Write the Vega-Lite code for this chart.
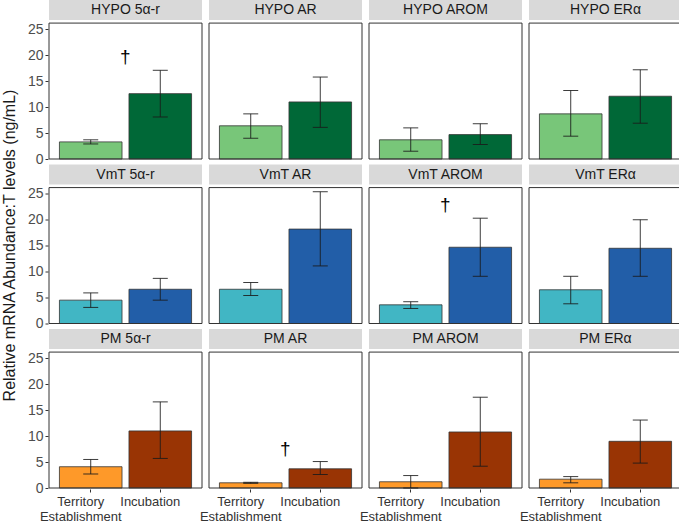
{
  "$schema": "https://vega.github.io/schema/vega-lite/v6.json",
  "padding": {"left": 2, "top": 0, "right": 0, "bottom": 0},
  "title": {"text": "Relative mRNA Abundance:T levels (ng/mL)", "orient": "left", "anchor": "middle", "fontSize": 16, "fontWeight": "normal", "color": "#1A1A1A", "offset": 9, "dx": 16},
  "data": {"values": [
    {"region": "HYPO", "gene": "5α-r", "panel": "HYPO 5α-r", "stage": "Territory Establishment", "grp": "HYPO T", "mean": 3.3, "lo": 2.9, "hi": 3.7, "sig": ""},
    {"region": "HYPO", "gene": "5α-r", "panel": "HYPO 5α-r", "stage": "Incubation", "grp": "HYPO I", "mean": 12.6, "lo": 8.1, "hi": 17.1, "sig": "†"},
    {"region": "HYPO", "gene": "AR", "panel": "HYPO AR", "stage": "Territory Establishment", "grp": "HYPO T", "mean": 6.4, "lo": 4.0, "hi": 8.7, "sig": ""},
    {"region": "HYPO", "gene": "AR", "panel": "HYPO AR", "stage": "Incubation", "grp": "HYPO I", "mean": 11.0, "lo": 6.1, "hi": 15.8, "sig": ""},
    {"region": "HYPO", "gene": "AROM", "panel": "HYPO AROM", "stage": "Territory Establishment", "grp": "HYPO T", "mean": 3.7, "lo": 1.5, "hi": 6.0, "sig": ""},
    {"region": "HYPO", "gene": "AROM", "panel": "HYPO AROM", "stage": "Incubation", "grp": "HYPO I", "mean": 4.7, "lo": 2.8, "hi": 6.8, "sig": ""},
    {"region": "HYPO", "gene": "ERα", "panel": "HYPO ERα", "stage": "Territory Establishment", "grp": "HYPO T", "mean": 8.7, "lo": 4.4, "hi": 13.2, "sig": ""},
    {"region": "HYPO", "gene": "ERα", "panel": "HYPO ERα", "stage": "Incubation", "grp": "HYPO I", "mean": 12.1, "lo": 6.9, "hi": 17.2, "sig": ""},
    {"region": "VmT", "gene": "5α-r", "panel": "VmT 5α-r", "stage": "Territory Establishment", "grp": "VmT T", "mean": 4.5, "lo": 3.1, "hi": 5.9, "sig": ""},
    {"region": "VmT", "gene": "5α-r", "panel": "VmT 5α-r", "stage": "Incubation", "grp": "VmT I", "mean": 6.6, "lo": 4.5, "hi": 8.7, "sig": ""},
    {"region": "VmT", "gene": "AR", "panel": "VmT AR", "stage": "Territory Establishment", "grp": "VmT T", "mean": 6.6, "lo": 5.4, "hi": 7.9, "sig": ""},
    {"region": "VmT", "gene": "AR", "panel": "VmT AR", "stage": "Incubation", "grp": "VmT I", "mean": 18.2, "lo": 11.1, "hi": 25.4, "sig": ""},
    {"region": "VmT", "gene": "AROM", "panel": "VmT AROM", "stage": "Territory Establishment", "grp": "VmT T", "mean": 3.6, "lo": 2.9, "hi": 4.2, "sig": ""},
    {"region": "VmT", "gene": "AROM", "panel": "VmT AROM", "stage": "Incubation", "grp": "VmT I", "mean": 14.7, "lo": 9.1, "hi": 20.3, "sig": "†"},
    {"region": "VmT", "gene": "ERα", "panel": "VmT ERα", "stage": "Territory Establishment", "grp": "VmT T", "mean": 6.5, "lo": 3.8, "hi": 9.1, "sig": ""},
    {"region": "VmT", "gene": "ERα", "panel": "VmT ERα", "stage": "Incubation", "grp": "VmT I", "mean": 14.5, "lo": 9.1, "hi": 20.0, "sig": ""},
    {"region": "PM", "gene": "5α-r", "panel": "PM 5α-r", "stage": "Territory Establishment", "grp": "PM T", "mean": 4.1, "lo": 2.7, "hi": 5.5, "sig": ""},
    {"region": "PM", "gene": "5α-r", "panel": "PM 5α-r", "stage": "Incubation", "grp": "PM I", "mean": 11.0, "lo": 5.7, "hi": 16.6, "sig": ""},
    {"region": "PM", "gene": "AR", "panel": "PM AR", "stage": "Territory Establishment", "grp": "PM T", "mean": 1.0, "lo": 0.9, "hi": 1.1, "sig": ""},
    {"region": "PM", "gene": "AR", "panel": "PM AR", "stage": "Incubation", "grp": "PM I", "mean": 3.7, "lo": 2.6, "hi": 5.1, "sig": "†"},
    {"region": "PM", "gene": "AROM", "panel": "PM AROM", "stage": "Territory Establishment", "grp": "PM T", "mean": 1.2, "lo": 0.0, "hi": 2.4, "sig": ""},
    {"region": "PM", "gene": "AROM", "panel": "PM AROM", "stage": "Incubation", "grp": "PM I", "mean": 10.8, "lo": 4.2, "hi": 17.5, "sig": ""},
    {"region": "PM", "gene": "ERα", "panel": "PM ERα", "stage": "Territory Establishment", "grp": "PM T", "mean": 1.7, "lo": 1.0, "hi": 2.2, "sig": ""},
    {"region": "PM", "gene": "ERα", "panel": "PM ERα", "stage": "Incubation", "grp": "PM I", "mean": 9.0, "lo": 4.8, "hi": 13.1, "sig": ""}
  ]},
  "facet": {
    "row": {"field": "region", "type": "nominal", "sort": ["HYPO", "VmT", "PM"], "header": {"labels": false, "title": null}},
    "column": {"field": "gene", "type": "nominal", "sort": ["5α-r", "AR", "AROM", "ERα"], "header": {"labels": false, "title": null}}
  },
  "spacing": {"row": 4.5, "column": 5},
  "spec": {
    "width": 153,
    "height": 159,
    "encoding": {
      "x": {"field": "stage", "type": "nominal", "sort": ["Territory Establishment", "Incubation"],
        "scale": {"paddingInner": 0.1, "paddingOuter": 0.15},
        "axis": {"title": null, "labelAngle": 0, "domain": false, "tickSize": 3, "tickColor": "#333333", "labelFontSize": 13, "labelColor": "#333333", "labelOffset": -10, "labelPadding": 3, "labelLineHeight": 15,
          "labelExpr": "datum.value == 'Territory Establishment' ? ['Territory', 'Establishment'] : datum.value"}
      }
    },
    "layer": [
      {
        "mark": {"type": "bar", "stroke": "#333333", "strokeWidth": 0.8},
        "encoding": {
          "y": {"field": "mean", "type": "quantitative", "scale": {"domain": [0, 30.65], "nice": false},
            "axis": {"values": [0, 5, 10, 15, 20, 25], "labelOverlap": false, "title": null, "domain": false, "grid": false, "tickSize": 3, "tickColor": "#333333", "labelFontSize": 14, "labelColor": "#4D4D4D", "labelPadding": 2}},
          "fill": {"field": "grp", "type": "nominal", "legend": null,
            "scale": {"domain": ["HYPO T", "HYPO I", "VmT T", "VmT I", "PM T", "PM I"], "range": ["#78C679", "#006837", "#41B6C4", "#225EA8", "#FE9929", "#993404"]}}
        }
      },
      {
        "mark": {"type": "rect", "fill": "#D9D9D9", "stroke": null},
        "transform": [{"filter": "datum.stage == 'Incubation'"}],
        "encoding": {"x": null, "y": {"datum": 26.8, "axis": {"values": [0, 5, 10, 15, 20, 25], "labelOverlap": false, "title": null}}, "y2": {"datum": 30.65}}
      },
      {
        "mark": {"type": "text", "fontSize": 14, "color": "#1A1A1A", "baseline": "middle", "align": "center"},
        "transform": [{"filter": "datum.stage == 'Incubation'"}],
        "encoding": {"x": null, "y": {"datum": 28.7, "axis": {"values": [0, 5, 10, 15, 20, 25], "labelOverlap": false, "title": null}}, "text": {"field": "panel"}}
      },
      {
        "mark": {"type": "rect", "fill": null, "stroke": "#333333", "strokeWidth": 1},
        "transform": [{"filter": "datum.stage == 'Incubation'"}],
        "encoding": {"x": null, "y": {"datum": 0, "axis": {"values": [0, 5, 10, 15, 20, 25], "labelOverlap": false, "title": null}}, "y2": {"datum": 26.2}}
      },
      {
        "mark": {"type": "rule", "color": "#1A1A1A", "strokeWidth": 1, "opacity": 0.85},
        "encoding": {"y": {"field": "lo", "type": "quantitative", "axis": {"values": [0, 5, 10, 15, 20, 25], "labelOverlap": false, "title": null}}, "y2": {"field": "hi"}}
      },
      {
        "mark": {"type": "tick", "orient": "horizontal", "color": "#1A1A1A", "size": 15, "thickness": 1, "opacity": 0.85},
        "encoding": {"y": {"field": "lo", "type": "quantitative", "axis": {"values": [0, 5, 10, 15, 20, 25], "labelOverlap": false, "title": null}}}
      },
      {
        "mark": {"type": "tick", "orient": "horizontal", "color": "#1A1A1A", "size": 15, "thickness": 1, "opacity": 0.85},
        "encoding": {"y": {"field": "hi", "type": "quantitative", "axis": {"values": [0, 5, 10, 15, 20, 25], "labelOverlap": false, "title": null}}}
      },
      {
        "mark": {"type": "text", "fontSize": 19, "color": "#000000", "baseline": "middle", "align": "center", "dx": -35, "dy": -13},
        "transform": [{"filter": "datum.sig != ''"}],
        "encoding": {"y": {"field": "hi", "type": "quantitative", "axis": {"values": [0, 5, 10, 15, 20, 25], "labelOverlap": false, "title": null}}, "text": {"field": "sig"}}
      }
    ]
  },
  "config": {"font": "Liberation Sans", "view": {"stroke": null}}
}
